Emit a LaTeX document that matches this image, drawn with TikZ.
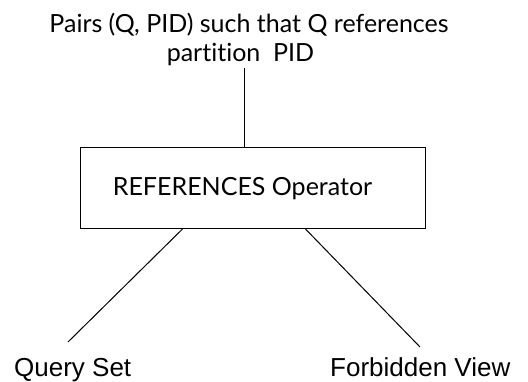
\documentclass[tikz,border=0pt]{standalone}
\usepackage{fontspec}
\setmainfont[Ligatures={NoCommon}]{Lato}
\newfontfamily\arialfont{Liberation Sans}
\begin{document}
\begin{tikzpicture}[x=1pt,y=-1pt,
  gill/.style={font=\fontsize{25}{29}\selectfont, inner sep=0pt, anchor=base},
  arial/.style={font=\arialfont\fontsize{26}{30}\selectfont, inner sep=0pt, anchor=base west},
  opbox/.style={draw, line width=1pt, minimum width=345pt, minimum height=81pt, inner sep=0pt},
  conn/.style={line width=1pt}]
\useasboundingbox (0,0) rectangle (528,381);
\node[gill] (top1) at (249,32) {Pairs (Q, PID) such that Q references};
\node[gill] (top2) at (240.5,61) {partition\ \ PID};
\node[opbox] (box) at (252.5,187.5) {};
\node[gill] (lbl) at (242.5,195) {REFERENCES Operator};
\node[arial] (qs) at (14,376) {Query Set};
\node[arial] (fv) at (330,376) {Forbidden View};
\coordinate (t) at (244,68);
\coordinate (q) at (68,342);
\coordinate (f) at (420,347);
\draw[conn] (t) -- (t |- box.north);
\draw[conn] ([xshift=-69.5pt]box.south) -- (q);
\draw[conn] ([xshift=52.5pt]box.south) -- (f);
\end{tikzpicture}
\end{document}
